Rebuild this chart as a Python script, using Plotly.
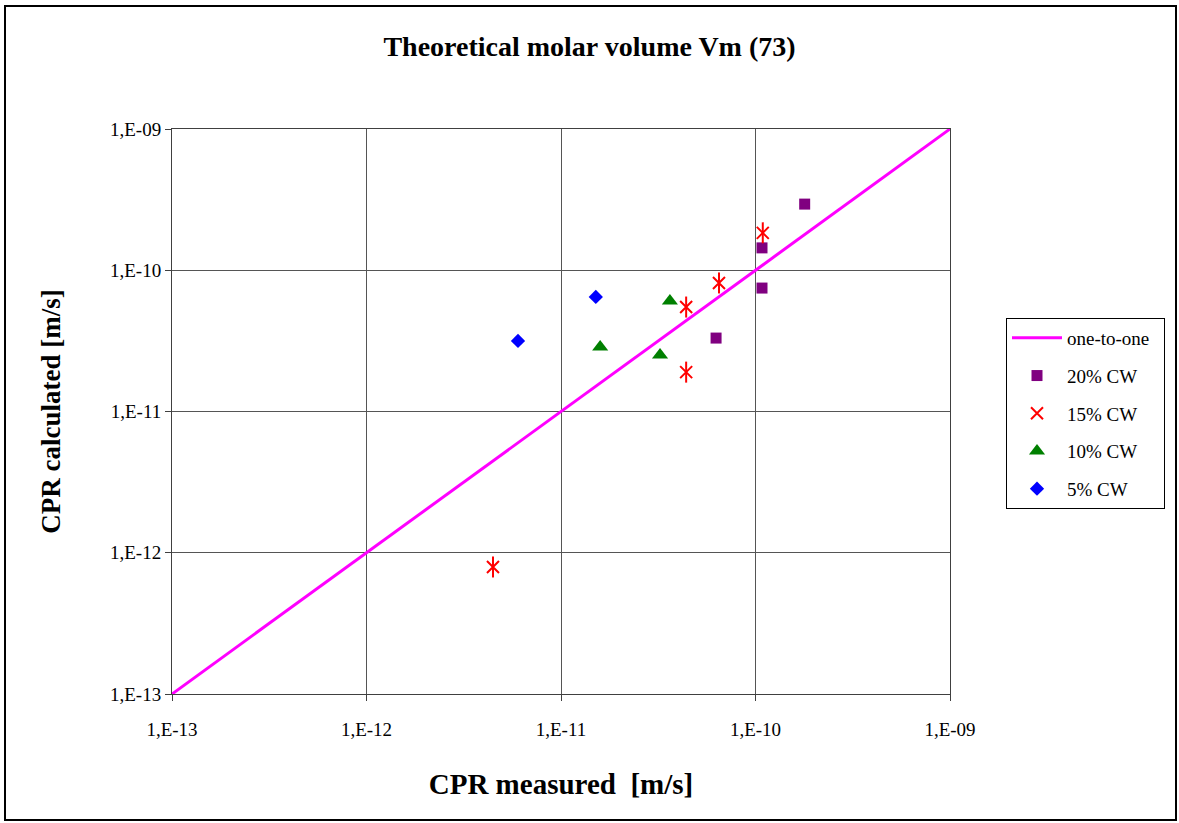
import plotly.graph_objects as go

# Data
one_to_one = [1e-13, 1e-9]

cw20_x = [1.79e-10, 1.08e-10, 1.08e-10, 6.27e-11]
cw20_y = [2.94e-10, 1.44e-10, 7.48e-11, 3.31e-11]

cw15_x = [1.09e-10, 6.49e-11, 4.40e-11, 4.40e-11, 4.47e-12]
cw15_y = [1.84e-10, 8.13e-11, 5.49e-11, 1.90e-11, 7.93e-13]

cw10_x = [3.63e-11, 1.59e-11, 3.23e-11]
cw10_y = [6.05e-11, 2.86e-11, 2.51e-11]

cw5_x = [1.51e-11, 6.01e-12]
cw5_y = [6.47e-11, 3.16e-11]

tick_vals = [1e-13, 1e-12, 1e-11, 1e-10, 1e-9]
tick_text = ["1,E-13", "1,E-12", "1,E-11", "1,E-10", "1,E-09"]

FONT = "Liberation Serif"

fig = go.Figure()
fig.add_trace(go.Scatter(x=one_to_one, y=one_to_one, mode="lines",
                         line=dict(color="#FF00FF", width=3),
                         name="one-to-one&nbsp;&nbsp;", legendgroup="a"))
fig.add_trace(go.Scatter(x=cw20_x, y=cw20_y, mode="markers",
                         marker=dict(symbol="square", size=11, color="#800080"),
                         name="20% CW", legendgroup="b"))
fig.add_trace(go.Scatter(x=cw15_x, y=cw15_y, mode="markers",
                         marker=dict(symbol="x-thin-open", size=12, color="#FF0000",
                                     line=dict(color="#FF0000", width=2)),
                         name="15% CW", legendgroup="c"))
fig.add_trace(go.Scatter(x=cw15_x, y=cw15_y, mode="markers",
                         marker=dict(symbol="line-ns-open", size=15, color="#FF0000",
                                     line=dict(color="#FF0000", width=2)),
                         name="15% CW", legendgroup="c", showlegend=False))
fig.add_trace(go.Scatter(x=cw10_x, y=cw10_y, mode="markers",
                         marker=dict(symbol="triangle-up", size=14, color="#008000"),
                         name="10% CW", legendgroup="d"))
fig.add_trace(go.Scatter(x=cw5_x, y=cw5_y, mode="markers",
                         marker=dict(symbol="diamond", size=11, color="#0000FF"),
                         name="5% CW", legendgroup="e"))

axis_common = dict(
    type="log", range=[-13, -9], tickvals=tick_vals, ticktext=tick_text,
    showgrid=True, gridcolor="#555555", gridwidth=1,
    showline=True, linecolor="#404040", linewidth=1, mirror=True,
    ticks="outside", ticklen=6, tickcolor="#404040",
    tickfont=dict(family=FONT, size=19, color="black"),
    zeroline=False,
)

fig.update_xaxes(**axis_common, ticklabelstandoff=12,
                 title=dict(text="<b>CPR measured&nbsp;&nbsp;[m/s]</b>",
                            font=dict(family=FONT, size=29, color="black"),
                            standoff=34))
fig.update_yaxes(**axis_common,
                 title=dict(text="<b>CPR calculated [m/s]</b>",
                            font=dict(family=FONT, size=27, color="black"),
                            standoff=41))

fig.update_layout(
    width=1179, height=823,
    margin=dict(l=172, r=229, t=129, b=129),
    paper_bgcolor="white", plot_bgcolor="white",
    title=dict(text="<b>Theoretical molar volume Vm (73)</b>",
               font=dict(family=FONT, size=28, color="black"),
               x=0.5, xanchor="center", y=1 - 46 / 823, yanchor="middle"),
    legend=dict(x=(1006 - 172) / 778, y=(694 - 318) / 565,
                xanchor="left", yanchor="top",
                bordercolor="black", borderwidth=1, bgcolor="white",
                font=dict(family=FONT, size=19, color="black"),
                itemwidth=50,
                tracegroupgap=10, traceorder="grouped"),
    showlegend=True,
)

# outer chart border
fig.add_shape(type="rect", xref="paper", yref="paper",
              x0=(5 - 172) / 778, x1=(1176 - 172) / 778,
              y0=(694 - 820) / 565, y1=(694 - 6) / 565,
              line=dict(color="black", width=2), fillcolor="rgba(0,0,0,0)",
              layer="below")

fig.write_html("out.html")
